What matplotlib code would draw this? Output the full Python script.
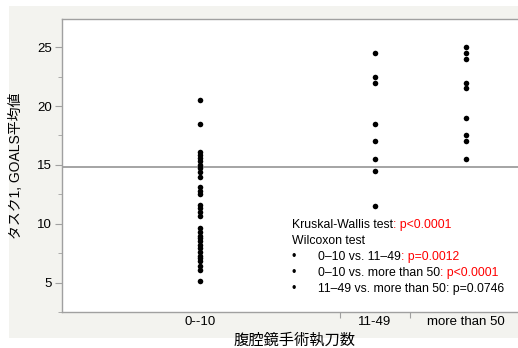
import matplotlib
matplotlib.use('Agg')
import matplotlib.pyplot as plt
from matplotlib.patches import Rectangle

plt.rcParams['font.family'] = ['Liberation Sans', 'Noto Sans CJK JP', 'DejaVu Sans']

# Data
groups = ['0--10', '11-49', 'more than 50']
scores_0_10 = [20.5, 18.5, 16.1, 15.8, 15.6, 15.3, 15.0, 14.7, 14.4, 14.0,
               13.1, 12.8, 12.5, 11.6, 11.3, 11.0, 10.7, 9.6, 9.3, 9.0,
               8.75, 8.5, 8.2, 7.9, 7.6, 7.3, 7.1, 6.8, 6.4, 6.1, 5.1]
scores_11_49 = [24.5, 22.5, 22.0, 18.5, 17.0, 15.5, 14.5, 11.5]
scores_50 = [25.0, 24.5, 24.0, 22.0, 21.5, 19.0, 17.5, 17.0, 15.5]
overall_mean = 14.85

# Layout: group widths in pixels (JMP-style proportional widths)
widths = [278, 70, 112]

W, H = 518, 348
fig = plt.figure(figsize=(W / 100, H / 100), dpi=100)
fig.patch.set_facecolor('white')

# gray panel behind the plot frame
fig.patches.append(Rectangle((9 / W, 1 - 338 / H), 1, (338 - 6) / H,
                             transform=fig.transFigure, facecolor='#f3f3ef',
                             edgecolor='none', zorder=-5))

ax = fig.add_axes([62 / W, 1 - 312 / H, sum(widths) / W, (312 - 19) / H])
ax.set_facecolor('white')

edges = [0]
for w in widths:
    edges.append(edges[-1] + w)
centers = [(edges[i] + edges[i + 1]) / 2 for i in range(len(widths))]
centers[0] = 138

for c, vals in zip(centers, [scores_0_10, scores_11_49, scores_50]):
    ax.scatter([c] * len(vals), vals, s=16, color='black', zorder=3, linewidths=0)

ax.axhline(overall_mean, color='#8c8c8c', lw=1.1, zorder=2)

ax.set_xlim(0, edges[-1])
ax.set_ylim(2.55, 27.4)

gray = '#a0a0a0'
for s in ax.spines.values():
    s.set_color(gray)
    s.set_linewidth(1.0)

ax.set_yticks([5, 10, 15, 20, 25])
ax.set_yticks([2.5, 7.5, 12.5, 17.5, 22.5], minor=True)
ax.tick_params(axis='y', which='major', length=5, color=gray, labelsize=9.5, pad=2)
ax.tick_params(axis='y', which='minor', length=3, color=gray)

ax.set_xticks(edges[1:-1])
ax.set_xticklabels([])
ax.set_xticks(centers, minor=True)
ax.set_xticklabels(groups, minor=True)
ax.tick_params(axis='x', which='major', length=4, color=gray)
ax.tick_params(axis='x', which='minor', length=0, labelsize=9.5, pad=3)

ax.set_ylabel('タスク1, GOALS平均値', fontsize=10)
ax.yaxis.set_label_coords(-0.085, 0.5)
fig.text(295 / W, 1 - 340 / H, '腹腔鏡手術執刀数', ha='center', va='center', fontsize=11)

# test results
fs = 8.8
x0 = 292 / W
t = fig.text(x0, 1 - 225 / H, 'Kruskal-Wallis test', fontsize=fs, va='center')
fig.add_artist(plt.Annotation(': p<0.0001', xy=(1, 0), xycoords=t, va='bottom',
                              fontsize=fs, color='red'))
fig.text(x0, 1 - 241 / H, 'Wilcoxon test', fontsize=fs, va='center')

lines = [('0\u201310 vs. 11\u201349', ': p=0.0012', 'red'),
         ('0\u201310 vs. more than 50', ': p<0.0001', 'red'),
         ('11\u201349 vs. more than 50', ': p=0.0746', 'black')]
ys = [257, 273, 289]
for (a, b, col), y in zip(lines, ys):
    fig.text(x0, 1 - y / H, '\u2022', fontsize=fs, va='center')
    t = fig.text(318 / W, 1 - y / H, a, fontsize=fs, va='center')
    fig.add_artist(plt.Annotation(b, xy=(1, 0), xycoords=t, va='bottom',
                                  fontsize=fs, color=col))

fig.savefig('out.png', dpi=100)
